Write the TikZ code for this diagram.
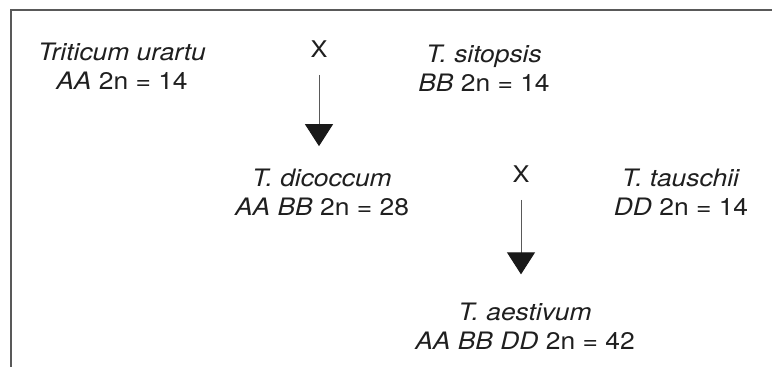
\documentclass[tikz,border=0pt]{standalone}
\usepackage{fontspec}
\setmainfont[FakeStretch=1.1]{TeX Gyre Heros}
\usetikzlibrary{arrows.meta}
\begin{document}
\begin{tikzpicture}[x=0.5pt,y=-0.5pt,
  lbl/.style={align=center,inner sep=0pt,font=\fontsize{12}{14.5}\selectfont,text=black!88},
  cross/.style={inner sep=0pt,font=\fontsize{11.5}{14}\selectfont,text=black!88},
  arr/.style={draw=black!65,line width=0.5pt,-{Triangle[width=14pt,length=11pt,color=black!90,fill=black!90]}},
  border/.style={draw=black!65,line width=1pt}]
\useasboundingbox (0,0) rectangle (772,367);
\draw[border] (772,10.5) -- (10.5,10.5) -- (10.5,367);
\node[lbl] (ura) at (122,66) {\textit{Triticum urartu}\\\textit{AA} 2n = 14};
\node[cross] (x1) at (319,49) {X};
\node[lbl] (sit) at (484,68) {\textit{T. sitopsis}\\\textit{BB} 2n = 14};
\node[lbl] (dic) at (322,192) {\textit{T. dicoccum}\\\textit{AA BB} 2n = 28};
\node[cross] (x2) at (521,174) {X};
\node[lbl] (tau) at (681,192) {\textit{T. tauschii}\\\textit{DD} 2n = 14};
\node[lbl] (aes) at (525,326) {\textit{T. aestivum}\\\textit{AA BB DD} 2n = 42};
\draw[arr] ([yshift=-8.5pt]x1.south) -- ([yshift=11pt]dic.north -| x1.south);
\draw[arr] ([yshift=-8.5pt]x2.south) -- ([yshift=14pt]aes.north -| x2.south);
\end{tikzpicture}
\end{document}
